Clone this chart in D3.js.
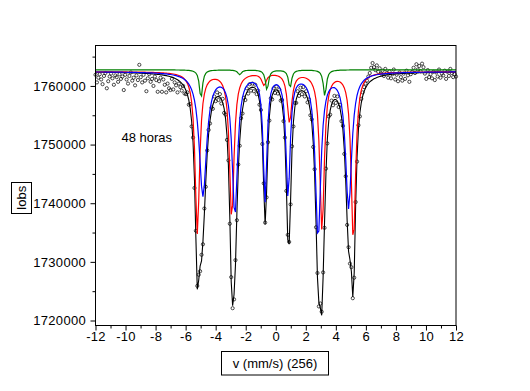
<!DOCTYPE html>
<html><head><meta charset="utf-8">
<script src="https://cdn.jsdelivr.net/npm/d3@7"></script>
<style>
body{margin:0;background:#fff}
text{font-family:"Liberation Sans",Arial,sans-serif}
</style>
</head><body>
<div id="chart"></div>
<script>
// observed counts per channel (x1000), 256 channels from -12 to 12 mm/s
var counts = [
  1761.9, 1760.6, 1761.4, 1762.0, 1761.1, 1760.3, 1761.7, 1762.2, 1759.6, 1760.8, 1761.6, 1762.1, 1761.3, 1760.2, 1761.8, 1761.5,
  1760.7, 1762.0, 1761.2, 1761.6, 1759.3, 1761.9, 1761.1, 1760.4, 1761.7, 1762.3, 1760.9, 1761.4, 1760.1, 1761.8, 1761.0, 1763.6,
  1761.5, 1760.6, 1761.9, 1760.9, 1759.1, 1761.3, 1762.0, 1760.7, 1761.2, 1760.0, 1761.6, 1761.0, 1759.0, 1760.8, 1761.4, 1759.0,
  1761.1, 1760.2, 1758.9, 1760.4, 1759.6, 1759.3, 1761.2, 1759.4, 1760.6, 1760.1, 1758.9, 1760.4, 1759.8, 1759.2, 1760.0, 1758.7,
  1758.6, 1758.9, 1756.8, 1756.9, 1753.1, 1751.2, 1742.6, 1735.3, 1725.9, 1727.8, 1728.4, 1731.2, 1733.0, 1739.1, 1742.8, 1749.0,
  1752.5, 1753.6, 1756.3, 1756.1, 1758.2, 1757.4, 1758.9, 1757.6, 1758.6, 1757.0, 1757.8, 1755.4, 1755.1, 1750.8, 1747.3, 1736.5,
  1727.4, 1722.1, 1723.6, 1730.3, 1737.1, 1746.6, 1749.8, 1754.5, 1755.3, 1758.0, 1757.6, 1759.6, 1758.7, 1760.3, 1759.2, 1760.4,
  1759.1, 1760.2, 1758.6, 1759.2, 1756.8, 1755.9, 1750.1, 1743.4, 1736.7, 1741.0, 1750.4, 1754.1, 1757.9, 1757.7, 1759.6, 1758.8,
  1759.9, 1758.7, 1759.4, 1757.5, 1757.6, 1754.0, 1751.2, 1742.1, 1734.6, 1733.4, 1739.8, 1749.7, 1753.1, 1757.1, 1757.1, 1759.1,
  1758.3, 1759.7, 1758.6, 1759.8, 1758.2, 1759.1, 1757.2, 1757.7, 1755.0, 1754.3, 1749.6, 1745.8, 1735.9, 1728.1, 1722.4, 1722.9,
  1721.5, 1728.2, 1735.8, 1745.9, 1750.2, 1754.8, 1755.1, 1757.5, 1756.7, 1758.3, 1757.1, 1758.2, 1756.4, 1756.8, 1754.0, 1753.2,
  1748.4, 1744.6, 1736.3, 1732.5, 1729.7, 1729.1, 1723.8, 1727.3, 1740.2, 1747.1, 1753.3, 1754.8, 1757.8, 1758.9, 1759.8, 1760.4,
  1760.9, 1761.6, 1762.2, 1763.1, 1763.9, 1763.2, 1762.7, 1763.5, 1762.4, 1763.0, 1762.1, 1762.6, 1761.7, 1762.9, 1762.2, 1761.4,
  1762.5, 1761.3, 1762.0, 1762.8, 1761.1, 1761.9, 1760.8, 1762.3, 1761.5, 1760.9, 1762.1, 1761.2, 1762.6, 1761.8, 1760.7, 1762.0,
  1762.4, 1763.1, 1762.2, 1763.7, 1762.8, 1763.4, 1762.5, 1763.8, 1763.2, 1762.1, 1761.2, 1762.7, 1761.5, 1762.0, 1761.3, 1762.4,
  1761.0, 1762.3, 1761.6, 1762.8, 1761.4, 1762.1, 1761.8, 1762.6, 1761.2, 1762.4, 1761.7, 1762.9, 1762.2, 1761.5, 1762.0, 1761.6
];

// fitted sub-spectra: line position (mm/s), depth (x1000 counts), half width (mm/s)
var baseline = 1762.45, greenBaseline = 1762.75;
var redPos = [-5.22, -2.93, -0.78, 0.92, 3.08, 5.17];
var redDepth = [27.5, 25, 2, 8.5, 27, 29];
var redHW = [0.18, 0.18, 0.18, 0.18, 0.18, 0.18];
var bluePos = [-4.85, -2.72, -0.71, 0.82, 2.82, 4.85];
var blueDepth = [21, 24, 21.5, 20.7, 28, 23];
var blueHW = [0.30, 0.22, 0.15, 0.17, 0.22, 0.25];
var greenPos = [-4.98, -2.4, -0.58, 0.95, 3.27];
var greenDepth = [4.9, 0.8, 3.5, 3.1, 4.5];
var greenHW = [0.12, 0.15, 0.12, 0.12, 0.12];

var xTicks = [-12, -10, -8, -6, -4, -2, 0, 2, 4, 6, 8, 10, 12];
var xMinor = [-11, -9, -7, -5, -3, -1, 1, 3, 5, 7, 9, 11];
var yTicks = [1720, 1730, 1740, 1750, 1760];
var yMinor = [1725, 1735, 1745, 1755, 1765];

var width = 530, height = 391;
var svg = d3.select("#chart").append("svg").attr("width", width).attr("height", height);

var x = d3.scaleLinear().domain([-12, 12]).range([95.5, 456]);
var y = d3.scaleLinear().domain([1719.149, 1766.894]).range([325.5, 45.5]);

var vel = counts.map(function(c, i){ return -12 + i * 24 / (counts.length - 1); });

function sub(pos, dep, hw, v){
  var s = 0;
  for (var k = 0; k < pos.length; k++) {
    var d = v - pos[k];
    s += dep[k] * hw[k] * hw[k] / (d * d + hw[k] * hw[k]);
  }
  return s;
}
var red = vel.map(function(v){ return [v, baseline - sub(redPos, redDepth, redHW, v)]; });
var blue = vel.map(function(v){ return [v, baseline - sub(bluePos, blueDepth, blueHW, v)]; });
var green = vel.map(function(v){ return [v, greenBaseline - sub(greenPos, greenDepth, greenHW, v)]; });
var total = vel.map(function(v){
  return [v, baseline - sub(redPos, redDepth, redHW, v) - sub(bluePos, blueDepth, blueHW, v) - sub(greenPos, greenDepth, greenHW, v)];
});

var line = d3.line().x(function(d){ return x(d[0]); }).y(function(d){ return y(d[1]); });

// data points
svg.append("g").selectAll("circle").data(counts).enter().append("circle")
  .attr("cx", function(d, i){ return x(vel[i]); })
  .attr("cy", function(d){ return y(d); })
  .attr("r", 1.6)
  .attr("fill", "none").attr("stroke", "#000").attr("stroke-width", 0.7);

var plot = svg.append("g");
plot.append("path").datum(total).attr("d", line).attr("fill", "none").attr("stroke", "#000").attr("stroke-width", 1.1);
plot.append("path").datum(red).attr("d", line).attr("fill", "none").attr("stroke", "#ff0000").attr("stroke-width", 1.2);
plot.append("path").datum(blue).attr("d", line).attr("fill", "none").attr("stroke", "#0000ff").attr("stroke-width", 1.2);
plot.append("path").datum(green).attr("d", line).attr("fill", "none").attr("stroke", "#008000").attr("stroke-width", 1.2);

// frame
svg.append("rect").attr("x", 95.5).attr("y", 45.5).attr("width", 360.5).attr("height", 280)
  .attr("fill", "none").attr("stroke", "#000").attr("stroke-width", 1);

// axes
svg.append("g").attr("transform", "translate(0,325.5)")
  .call(d3.axisBottom(x).tickValues(xTicks).tickSize(5).tickPadding(1.5).tickFormat(function(d){ return String(d); }));
svg.append("g").attr("transform", "translate(0,325.5)")
  .call(d3.axisBottom(x).tickValues(xMinor).tickSize(3).tickFormat(""));
svg.append("g").attr("transform", "translate(95.5,0)")
  .call(d3.axisLeft(y).tickValues(yTicks).tickSize(5).tickPadding(4.5).tickFormat(function(d){ return String(d * 1000); }));
svg.append("g").attr("transform", "translate(95.5,0)")
  .call(d3.axisLeft(y).tickValues(yMinor).tickSize(3).tickFormat(""));
svg.selectAll(".domain").remove();
svg.selectAll(".tick line").attr("stroke", "#000");
svg.selectAll(".tick text").attr("fill", "#000").style("font-size", "13px")
  .style("letter-spacing", "0.3px").style("font-family", '"Liberation Sans", Arial, sans-serif');

// axis titles in boxes
svg.append("rect").attr("x", 221.5).attr("y", 351.5).attr("width", 107).attr("height", 23.5)
  .attr("fill", "none").attr("stroke", "#000");
svg.append("text").attr("x", 275).attr("y", 368).attr("text-anchor", "middle")
  .style("font-size", "13px").text("v (mm/s) (256)");
svg.append("rect").attr("x", 11.5).attr("y", 182.5).attr("width", 20).attr("height", 31)
  .attr("fill", "none").attr("stroke", "#000");
svg.append("text").attr("transform", "translate(26,198) rotate(-90)").attr("text-anchor", "middle")
  .style("font-size", "13px").text("Iobs");

svg.append("text").attr("x", 121.5).attr("y", 142).style("font-size", "13px").text("48 horas");
</script>
</body></html>
